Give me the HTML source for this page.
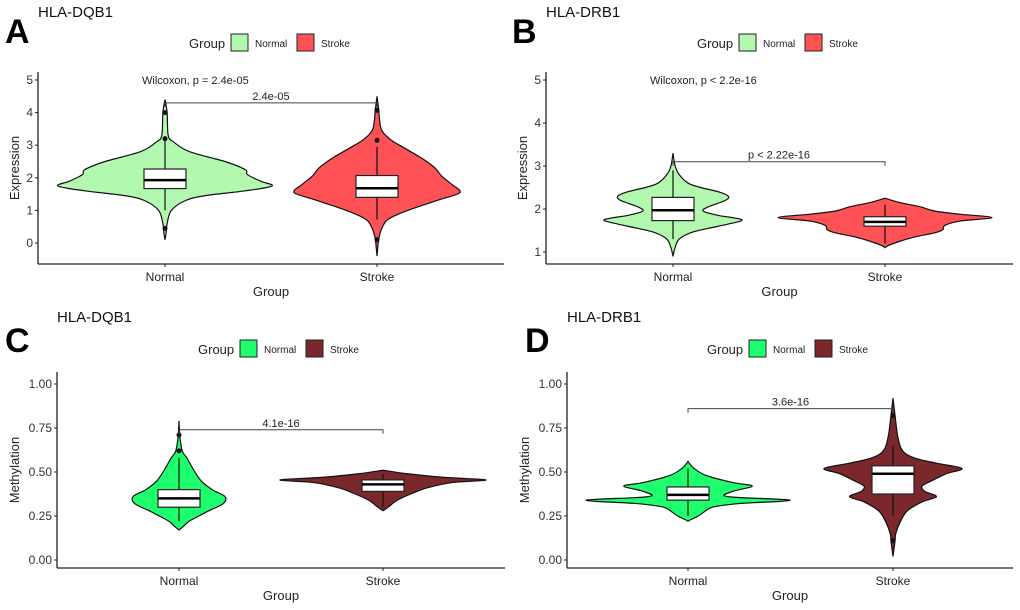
<!DOCTYPE html>
<html><head><meta charset="utf-8">
<style>
html,body{margin:0;padding:0;background:#fff;}
svg{display:block;font-family:"Liberation Sans",Arial,sans-serif;}
</style></head>
<body>
<svg id="fig" width="1020" height="610" viewBox="0 0 1020 610" xmlns="http://www.w3.org/2000/svg"></svg>
<script>
// ---------- data ----------
// Panel A (HLA-DQB1 expression)
const aNormalVals=[4.4,4.0,3.3,3.1,2.8,2.5,2.25,2.1,1.9,1.75,1.6,1.45,1.3,1.0,0.6,0.3,0.1];
const aNormalDens=[0,0.02,0.03,0.08,0.23,0.56,0.75,0.77,0.89,1,0.75,0.37,0.19,0.06,0.02,0.01,0];
const aStrokeVals=[4.5,4.1,3.5,3.2,3.0,2.6,2.3,2.05,1.8,1.55,1.35,1.1,0.9,0.7,0.4,0.1,-0.4];
const aStrokeDens=[0,0.02,0.05,0.15,0.27,0.54,0.7,0.78,0.9,1,0.78,0.48,0.27,0.12,0.05,0.02,0];
const aNormalBox=[1.0,1.67,1.93,2.27,3.2];
const aStrokeBox=[0.72,1.4,1.68,2.07,2.95];
const aNormalOut=[4.0,3.2,0.45];
const aStrokeOut=[4.07,3.15,0.1];
// Panel B (HLA-DRB1 expression)
const bNormalVals=[3.3,3.0,2.8,2.6,2.5,2.4,2.3,2.2,2.05,1.95,1.85,1.75,1.65,1.55,1.45,1.3,1.1,0.9];
const bNormalDens=[0,0.03,0.09,0.22,0.4,0.66,0.8,0.76,0.51,0.44,0.66,1,0.8,0.51,0.26,0.09,0.03,0];
const bStrokeVals=[2.25,2.15,2.05,1.95,1.88,1.8,1.72,1.62,1.52,1.45,1.35,1.25,1.15,1.1];
const bStrokeDens=[0,0.14,0.33,0.47,0.7,1,0.7,0.56,0.54,0.47,0.28,0.14,0.03,0];
const bNormalBox=[1.3,1.73,1.97,2.27,2.9];
const bStrokeBox=[1.2,1.6,1.7,1.82,2.1];
// Panel C (HLA-DQB1 methylation)
const cNormalVals=[0.79,0.7,0.62,0.58,0.52,0.45,0.4,0.36,0.32,0.28,0.25,0.22,0.19,0.17];
const cNormalDens=[0,0.02,0.07,0.17,0.3,0.48,0.72,1,0.96,0.65,0.43,0.22,0.09,0];
const cStrokeVals=[0.51,0.49,0.47,0.455,0.44,0.41,0.38,0.34,0.3,0.28];
const cStrokeDens=[0,0.24,0.58,1,0.67,0.43,0.29,0.14,0.05,0];
const cNormalBox=[0.22,0.30,0.35,0.40,0.58];
const cStrokeBox=[0.3,0.39,0.43,0.455,0.49];
const cNormalOut=[0.71,0.62];
// Panel D (HLA-DRB1 methylation)
const dNormalVals=[0.56,0.52,0.48,0.44,0.42,0.39,0.36,0.34,0.32,0.30,0.27,0.25,0.23,0.22];
const dNormalDens=[0,0.06,0.18,0.44,0.63,0.44,0.39,1,0.49,0.24,0.15,0.1,0.03,0];
const dStrokeVals=[0.92,0.82,0.7,0.62,0.58,0.55,0.52,0.49,0.45,0.42,0.39,0.36,0.33,0.28,0.22,0.15,0.11,0.02];
const dStrokeDens=[0,0.03,0.07,0.14,0.31,0.63,1,0.77,0.56,0.42,0.46,0.63,0.42,0.21,0.11,0.04,0.03,0];
const dNormalBox=[0.25,0.34,0.37,0.415,0.52];
const dStrokeBox=[0.25,0.375,0.49,0.535,0.65];
const dStrokeOut=[0.82,0.11];
const exprTicks=[0,1,2,3,4,5];
const exprTicksB=[1,2,3,4,5];
const methTicks=[0,0.25,0.5,0.75,1.0];
const methTickLabels=["0.00","0.25","0.50","0.75","1.00"];
const groups=["Normal","Stroke"];

// ---------- drawing ----------
const NS="http://www.w3.org/2000/svg";
const svg=document.getElementById('fig');
function mk(tag,attrs,parent,text){const e=document.createElementNS(NS,tag);for(const k in attrs)e.setAttribute(k,attrs[k]);if(text!==undefined)e.textContent=text;(parent||svg).appendChild(e);return e;}

function smooth(pts){
  let d=`M${pts[0][0]},${pts[0][1]}`;
  for(let i=0;i<pts.length-1;i++){
    const p0=pts[i-1]||pts[i],p1=pts[i],p2=pts[i+1],p3=pts[i+2]||p2;
    const c1=[p1[0]+(p2[0]-p0[0])/6,p1[1]+(p2[1]-p0[1])/6];
    const c2=[p2[0]-(p3[0]-p1[0])/6,p2[1]-(p3[1]-p1[1])/6];
    d+=` C${c1[0]},${c1[1]} ${c2[0]},${c2[1]} ${p2[0]},${p2[1]}`;
  }
  return d;
}

function panel(cfg){
  const g=mk('g',{},svg);
  
  
  const y=v=>cfg.y0+(v-cfg.v0)*(cfg.y1-cfg.y0)/(cfg.v1-cfg.v0);
  const xs=[cfg.xN,cfg.xS];
  const L=mk('text',{x:cfg.letterX,y:cfg.letterY,'font-size':34,'font-weight':'bold',fill:'#000'},g,cfg.letter);
  
  const T=mk('text',{x:cfg.titleX,y:cfg.titleY,'font-size':15,fill:'#111'},g,cfg.title);
  
  const lg=mk('g',{},g);
  mk('text',{x:cfg.legX,y:cfg.legY+5,'font-size':13,fill:'#222'},lg,'Group');
  [0,1].forEach(i=>{
    const kx=cfg.legX+42+i*66;
    const r=mk('rect',{x:kx,y:cfg.legY-9,width:17,height:17,fill:cfg.colors[i],stroke:'#222','stroke-width':1},lg);
    
    mk('text',{x:kx+24,y:cfg.legY+4,'font-size':10,fill:'#222'},lg,groups[i]);
  });
  mk('line',{x1:cfg.ax,y1:cfg.axTop,x2:cfg.ax,y2:cfg.axBot,stroke:'#222','stroke-width':1.3},g);
  mk('line',{x1:cfg.ax,y1:cfg.axBot,x2:cfg.axRight,y2:cfg.axBot,stroke:'#222','stroke-width':1.3},g);
  cfg.ticks.forEach((t,i)=>{
    const ty=y(t);
    mk('line',{x1:cfg.ax-3,y1:ty,x2:cfg.ax,y2:ty,stroke:'#222'},g);
    const tl=mk('text',{x:cfg.ax-5,y:ty+4,'font-size':12,'text-anchor':'end',fill:'#333'},g,cfg.tickLabels[i]);
    
  });
  xs.forEach((x,i)=>{
    mk('line',{x1:x,y1:cfg.axBot,x2:x,y2:cfg.axBot+3,stroke:'#222'},g);
    const xl=mk('text',{x:x,y:cfg.axBot+17,'font-size':12,'text-anchor':'middle',fill:'#222'},g,groups[i]);
    
  });
  const xt=mk('text',{x:(cfg.ax+cfg.axRight)/2,y:cfg.axBot+32,'font-size':13,'text-anchor':'middle',fill:'#222'},g,'Group');
  
  const yt=mk('text',{x:0,y:0,'font-size':13,'text-anchor':'middle',fill:'#222',transform:`translate(${cfg.ytX},${(cfg.axTop+cfg.axBot)/2}) rotate(-90)`},g,cfg.ylab);
  
  cfg.series.forEach((s,i)=>{
    const cx=xs[i];
    const right=s.vals.map((v,j)=>[cx+s.dens[j]*s.hw,y(v)]);
    const left=s.vals.map((v,j)=>[cx-s.dens[j]*s.hw,y(v)]).reverse();
    const d=smooth(right)+' L'+smooth(left).slice(1)+' Z';
    const p=mk('path',{d:d,fill:cfg.colors[i],stroke:'#111','stroke-width':1.2},g);
    
    const b=s.box;
    mk('line',{x1:cx,y1:y(b[0]),x2:cx,y2:y(b[4]),stroke:'#111','stroke-width':1.2},g);
    const r=mk('rect',{x:cx-21,y:y(b[3]),width:42,height:y(b[1])-y(b[3]),fill:'#fff',stroke:'#222','stroke-width':1.2},g);
    
    mk('line',{x1:cx-21,y1:y(b[2]),x2:cx+21,y2:y(b[2]),stroke:'#000','stroke-width':2.5},g);
    (s.out||[]).forEach(o=>{
      const c=mk('circle',{cx:cx,cy:y(o),r:2.5,fill:'#111'},g);
      
    });
  });
  const by=y(cfg.bracket);
  const br=mk('path',{d:`M${xs[0]},${by+4} V${by} H${xs[1]} V${by+4}`,fill:'none',stroke:'#444','stroke-width':1},g);
  
  const bl=mk('text',{x:(xs[0]+xs[1])/2,y:by-3,'font-size':11,'text-anchor':'middle',fill:'#222'},g,cfg.pText);
  
  if(cfg.wil){
    const w=mk('text',{x:cfg.wilX,y:y(cfg.wilV)+4,'font-size':11,fill:'#222'},g,cfg.wil);
    
  }
}

panel({name:'panel-a',letter:'A',letterX:5,letterY:43,title:'HLA-DQB1',titleX:38,titleY:17,legX:189,legY:43,
  colors:['#B3F8AF','#FF5257'],ax:38,axTop:72,axBot:264,axRight:504,y0:243,y1:80,v0:0,v1:5,ytX:19,
  ticks:exprTicks,tickLabels:exprTicks.map(String),xN:165,xS:377,ylab:'Expression',
  series:[{vals:aNormalVals,dens:aNormalDens,hw:107,box:aNormalBox,out:aNormalOut},
          {vals:aStrokeVals,dens:aStrokeDens,hw:83,box:aStrokeBox,out:aStrokeOut}],
  bracket:4.3,pText:'2.4e-05',wil:'Wilcoxon, p = 2.4e-05',wilX:142,wilV:5});
panel({name:'panel-b',letter:'B',letterX:512,letterY:43,title:'HLA-DRB1',titleX:546,titleY:17,legX:697,legY:43,
  colors:['#B3F8AF','#FF5257'],ax:546,axTop:72,axBot:264,axRight:1013,y0:252,y1:80,v0:1,v1:5,ytX:527,
  ticks:exprTicksB,tickLabels:exprTicksB.map(String),xN:673,xS:885,ylab:'Expression',
  series:[{vals:bNormalVals,dens:bNormalDens,hw:69,box:bNormalBox,out:[]},
          {vals:bStrokeVals,dens:bStrokeDens,hw:107,box:bStrokeBox,out:[]}],
  bracket:3.1,pText:'p < 2.22e-16',wil:'Wilcoxon, p < 2.2e-16',wilX:650,wilV:5});
panel({name:'panel-c',letter:'C',letterX:5,letterY:352,title:'HLA-DQB1',titleX:57,titleY:322,legX:198,legY:349,
  colors:['#1EFF6E','#7A282C'],ax:57,axTop:372,axBot:568,axRight:505,y0:560,y1:384,v0:0,v1:1,ytX:19,
  ticks:methTicks,tickLabels:methTickLabels,xN:179,xS:383,ylab:'Methylation',
  series:[{vals:cNormalVals,dens:cNormalDens,hw:46,box:cNormalBox,out:cNormalOut},
          {vals:cStrokeVals,dens:cStrokeDens,hw:103,box:cStrokeBox,out:[]}],
  bracket:0.74,pText:'4.1e-16'});
panel({name:'panel-d',letter:'D',letterX:525,letterY:352,title:'HLA-DRB1',titleX:567,titleY:322,legX:707,legY:349,
  colors:['#1EFF6E','#7A282C'],ax:567,axTop:372,axBot:568,axRight:1013,y0:560,y1:384,v0:0,v1:1,ytX:529,
  ticks:methTicks,tickLabels:methTickLabels,xN:688,xS:893,ylab:'Methylation',
  series:[{vals:dNormalVals,dens:dNormalDens,hw:102,box:dNormalBox,out:[]},
          {vals:dStrokeVals,dens:dStrokeDens,hw:69,box:dStrokeBox,out:dStrokeOut}],
  bracket:0.86,pText:'3.6e-16'});
</script>
</body></html>
